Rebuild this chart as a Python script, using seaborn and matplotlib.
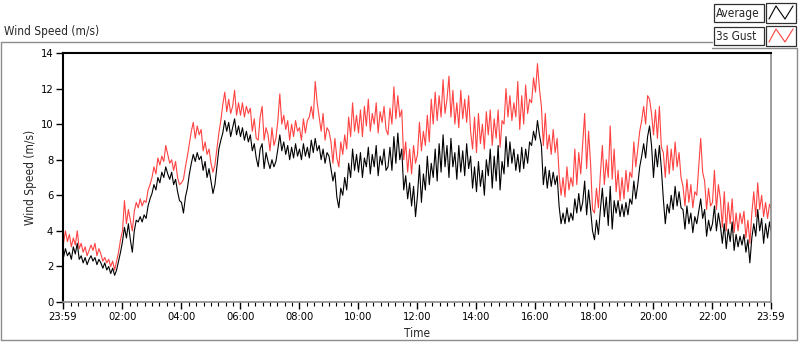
import numpy as np
import pandas as pd
import matplotlib
matplotlib.use("Agg")
import matplotlib.pyplot as plt
import seaborn as sns
from matplotlib import font_manager as fm
from matplotlib.lines import Line2D
from matplotlib.patches import Rectangle
from matplotlib.ticker import MultipleLocator

# ---------------- data (4-minute samples) ----------------
minutes = list(range(0, 1440, 4)) + [1439]

average = [
    2.5, 3.0, 2.6, 2.8, 2.4, 3.1, 2.7, 3.3, 2.4, 2.6, 2.2, 2.5, 2.1, 2.4, 2.6,   # 00h
    2.3, 2.5, 2.1, 2.4, 2.2, 1.9, 2.2, 1.8, 2.0, 1.6, 1.9, 1.5, 1.8, 2.3, 2.8,   # 01h
    3.4, 4.2, 3.6, 4.4, 3.5, 2.8, 4.0, 4.6, 4.5, 4.8, 4.5, 4.9, 4.7, 5.4, 5.8,   # 02h
    6.1, 6.6, 6.3, 7.0, 6.7, 7.3, 7.0, 7.6, 7.2, 6.9, 7.3, 6.6, 6.9, 6.2, 5.7,   # 03h
    5.6, 5.0, 5.9, 6.4, 7.2, 7.8, 8.3, 7.9, 8.4, 8.0, 8.2, 7.4, 7.9, 7.0, 7.5,   # 04h
    6.8, 6.1, 6.6, 7.6, 8.6, 9.1, 9.5, 10.2, 9.6, 10.1, 9.3, 9.8, 10.3, 9.4, 9.9,  # 05h
    9.3, 9.8, 9.1, 9.6, 9.0, 9.4, 8.5, 8.9, 8.1, 7.6, 8.6, 8.9, 7.5, 8.4, 7.9,   # 06h
    7.5, 8.0, 7.6, 7.9, 8.6, 9.4, 8.5, 9.0, 8.3, 8.8, 8.0, 8.7, 8.1, 8.9, 8.2,   # 07h
    8.6, 8.0, 8.9, 8.2, 8.7, 8.1, 9.1, 8.4, 9.2, 8.5, 8.8, 8.0, 8.6, 7.8, 8.4,   # 08h
    8.2, 7.5, 6.8, 7.3, 5.9, 5.3, 6.4, 6.0, 7.0, 6.3, 7.8, 7.0, 8.6, 7.4, 8.3,   # 09h
    7.3, 8.4, 7.0, 8.1, 7.6, 8.7, 7.2, 8.3, 7.6, 8.8, 7.1, 8.2, 7.7, 8.6, 7.4,   # 10h
    7.6, 8.7, 7.4, 9.3, 7.8, 9.5, 8.0, 8.6, 6.3, 7.1, 5.8, 6.7, 5.4, 6.5, 4.8,   # 11h
    6.0, 7.7, 5.6, 7.2, 6.3, 8.2, 6.6, 7.8, 7.0, 8.6, 6.8, 8.9, 7.3, 9.4, 7.6,   # 12h
    8.8, 7.0, 9.2, 7.6, 8.4, 6.9, 8.8, 7.3, 8.5, 7.1, 8.9, 7.5, 8.2, 6.4, 7.6,   # 13h
    6.2, 7.9, 6.5, 7.4, 6.0, 8.0, 7.1, 8.6, 6.4, 8.2, 6.8, 8.8, 6.3, 7.9, 7.2,   # 14h
    9.3, 7.6, 9.0, 7.8, 8.6, 7.4, 8.3, 7.3, 8.7, 7.5, 8.6, 7.8, 9.0, 8.8, 9.6,   # 15h
    9.1, 10.2, 9.4, 8.8, 6.6, 7.6, 6.4, 7.4, 6.5, 7.3, 6.6, 7.1, 5.4, 4.4, 5.0,  # 16h
    4.4, 5.3, 4.5, 5.0, 4.6, 5.8, 5.0, 6.1, 5.1, 5.6, 6.8, 4.9, 6.3, 5.2, 4.0,   # 17h
    3.5, 4.6, 3.8, 5.2, 6.4, 4.8, 5.9, 4.3, 6.5, 4.1, 5.7, 5.0, 5.7, 4.8, 5.5,   # 18h
    4.8, 5.6, 4.9, 5.8, 5.5, 6.8, 5.8, 6.6, 7.6, 8.2, 8.9, 8.1, 9.3, 9.9, 8.8,   # 19h
    7.0, 8.6, 7.6, 8.8, 7.5, 5.8, 4.4, 5.5, 5.0, 6.0, 5.2, 6.5, 5.4, 6.2, 5.3,   # 20h
    5.2, 4.1, 5.4, 4.4, 5.0, 3.9, 4.8, 4.4, 5.1, 5.8, 4.7, 5.2, 3.7, 4.6, 4.0,   # 21h
    4.4, 5.4, 4.0, 5.0, 4.3, 3.3, 4.4, 3.0, 4.1, 3.4, 4.5, 2.9, 3.8, 3.1, 3.7,   # 22h
    3.2, 3.8, 2.8, 3.5, 2.2, 3.6, 4.4, 3.7, 5.2, 4.0, 4.7, 3.3, 4.4, 3.6, 4.5,   # 23h
    4.0,
]

gust = [
    3.3, 4.0, 3.4, 3.8, 3.1, 3.6, 3.2, 4.0, 3.0, 3.3, 2.8, 3.1, 2.6, 2.9, 3.2,   # 00h
    2.9, 3.3, 2.6, 3.0, 2.7, 2.3, 2.5, 2.2, 2.4, 2.0, 2.3, 1.8, 2.3, 2.8, 3.5,   # 01h
    4.0, 5.7, 4.4, 5.2, 4.6, 4.0, 5.1, 5.6, 5.3, 5.8, 5.4, 5.7, 5.6, 6.3, 6.6,   # 02h
    7.0, 7.6, 7.2, 8.1, 7.7, 8.2, 7.9, 8.8, 8.3, 7.8, 8.0, 7.4, 7.9, 7.0, 6.6,   # 03h
    6.7, 6.9, 7.6, 8.2, 8.9, 9.6, 10.1, 9.2, 9.9, 9.4, 9.7, 8.5, 9.0, 8.3, 8.6,  # 04h
    7.8, 7.3, 7.7, 8.6, 9.5, 10.2, 11.1, 11.8, 10.7, 11.4, 10.6, 11.0, 11.9, 10.5, 11.2,  # 05h
    10.5, 11.2, 10.4, 11.0, 10.6, 10.9, 9.6, 10.3, 9.2, 9.1, 10.4, 11.0, 9.1, 9.8, 9.4,  # 06h
    8.5, 9.8, 8.8, 9.2, 10.2, 11.7, 10.0, 10.5, 9.7, 10.2, 9.1, 10.0, 9.3, 10.2, 9.6,    # 07h
    9.8, 9.1, 10.3, 9.5, 10.2, 10.4, 11.0, 10.3, 12.4, 11.2, 10.4, 9.6, 10.6, 9.1, 9.8,  # 08h
    9.6, 9.0, 7.8, 9.2, 8.1, 7.6, 9.0, 8.3, 9.4, 8.6, 10.4, 9.3, 11.2, 9.6, 10.5,        # 09h
    9.5, 10.8, 9.3, 11.0, 9.9, 11.4, 9.6, 10.6, 10.0, 11.2, 9.5, 10.7, 10.1, 11.0, 9.7,  # 10h
    9.4, 10.9, 10.0, 12.1, 10.3, 11.6, 10.4, 10.8, 8.0, 9.0, 7.3, 8.6, 7.2, 8.8, 7.8,    # 11h
    8.3, 10.1, 8.5, 9.6, 8.8, 10.5, 9.0, 11.4, 10.0, 11.8, 10.2, 11.6, 10.4, 12.5, 10.6, # 12h
    11.4, 12.7, 10.4, 11.9, 10.0, 11.2, 9.8, 11.9, 10.3, 11.4, 10.1, 11.6, 9.6, 8.6, 10.4,  # 13h
    8.4, 10.6, 8.9, 10.0, 8.6, 10.7, 9.4, 10.8, 8.8, 10.3, 9.2, 10.8, 8.7, 10.2, 10.0,   # 14h
    12.0, 10.4, 11.6, 10.2, 11.2, 10.4, 12.4, 9.7, 11.6, 10.0, 12.2, 10.6, 11.4, 11.2, 12.6,  # 15h
    11.8, 13.4, 12.0, 11.0, 8.8, 10.6, 8.6, 9.4, 8.3, 9.7, 8.4, 9.2, 7.2, 6.0, 7.0,      # 16h
    5.9, 7.6, 6.3, 7.0, 6.5, 8.6, 6.6, 8.4, 7.2, 8.9, 10.6, 7.5, 9.6, 7.8, 5.2,          # 17h
    5.0, 6.4, 5.3, 7.2, 8.8, 6.6, 8.0, 7.0, 9.9, 6.9, 8.6, 6.2, 7.4, 5.7, 7.0,           # 18h
    5.8, 7.4, 6.2, 7.3, 7.0, 9.0, 7.6, 8.6, 9.6, 10.2, 11.0, 10.0, 11.6, 11.4, 10.6,     # 19h
    9.4, 10.8, 9.2, 11.0, 8.7, 8.4, 7.0, 8.8, 7.2, 8.6, 7.4, 9.0, 7.6, 8.4, 7.0,         # 20h
    6.5, 5.4, 6.9, 5.6, 6.6, 5.3, 6.2, 6.0, 7.6, 9.2, 7.3, 6.8, 5.2, 6.4, 5.4,           # 21h
    5.6, 7.4, 5.2, 6.6, 5.8, 4.2, 6.2, 4.0, 5.6, 4.4, 5.8, 3.9, 5.0, 4.0, 5.0,           # 22h
    4.4, 5.1, 3.6, 4.6, 3.3, 5.0, 6.2, 4.8, 6.7, 5.2, 6.0, 4.8, 5.6, 4.7, 5.5,           # 23h
    5.3,
]

tick_positions = [-1, 120, 240, 360, 480, 600, 720, 840, 960, 1080, 1200, 1320, 1439]
tick_labels = ["23:59", "02:00", "04:00", "06:00", "08:00", "10:00", "12:00",
               "14:00", "16:00", "18:00", "20:00", "22:00", "23:59"]
y_ticks = [0, 2, 4, 6, 8, 10, 12, 14]

# ---------------- style ----------------
sns.set_style("ticks")

names = {f.name for f in fm.fontManager.ttflist}
condensed = [f for f in fm.fontManager.ttflist
             if f.name == "DejaVu Sans" and "ondensed" in f.fname and "Bold" not in f.fname
             and "Oblique" not in f.fname]
FS = 8.5
if "Liberation Sans Narrow" in names:
    plt.rcParams["font.family"] = ["Liberation Sans Narrow", "DejaVu Sans"]
elif condensed:
    fm.fontManager.addfont(condensed[0].fname)
    plt.rcParams["font.family"] = ["DejaVu Sans"]
    plt.rcParams["font.stretch"] = "condensed"
else:
    plt.rcParams["font.family"] = ["Liberation Sans", "DejaVu Sans"]
    FS = 8

RED = "#FF4242"
GREY = "#8c8c8c"

W, H = 800, 342
fig = plt.figure(figsize=(W / 100, H / 100), dpi=100)


def fx(px):
    return px / W


def fy(py):
    return 1 - py / H


ax = fig.add_axes([fx(63), fy(302), (771 - 63) / W, (302 - 53) / H])

df = pd.DataFrame({"minute": minutes, "Average": average, "3s Gust": gust})
sns.lineplot(data=df, x="minute", y="3s Gust", color=RED, lw=0.8, ax=ax, legend=False)
sns.lineplot(data=df, x="minute", y="Average", color="black", lw=0.8, ax=ax, legend=False)

ax.set_xlim(-1, 1439)
ax.set_ylim(0, 14)
ax.set_xticks(tick_positions)
ax.set_xticklabels(tick_labels)
ax.xaxis.set_minor_locator(MultipleLocator(15))
ax.set_yticks(y_ticks)
ax.tick_params(axis="both", which="major", direction="out", length=5, width=1,
               color="black", labelsize=FS - 0.5, pad=2, labelcolor="black")
ax.tick_params(axis="x", which="minor", direction="out", length=3, width=0.8, color="black")

ax.set_xlabel("Time", fontsize=FS)
ax.xaxis.set_label_coords(0.5, (302 - 327) / 249)
ax.set_ylabel("Wind Speed (m/s)", fontsize=FS)
ax.yaxis.set_label_coords((37 - 63) / 708, 0.5)

for side in ["top", "left"]:
    ax.spines[side].set_color("black")
    ax.spines[side].set_linewidth(1.5)
for side in ["bottom", "right"]:
    ax.spines[side].set_color(GREY)
    ax.spines[side].set_linewidth(1.2)

# chart title
fig.text(fx(4), fy(31), "Wind Speed (m/s)", fontsize=FS, va="center", ha="left")

# outer frame
frame_pts = [((0.5, 42), (712, 42)), ((0.5, 42), (0.5, 340)),
             ((0.5, 340), (797, 340)), ((797, 48), (797, 340)), ((712, 48), (797, 48))]
for (x0, y0), (x1, y1) in frame_pts:
    fig.add_artist(Line2D([fx(x0), fx(x1)], [fy(y0), fy(y1)], color=GREY, lw=1.0))

# legend (LabVIEW-style)
legend_rows = [("Average", "black", 4, 22), ("3s Gust", RED, 27, 45)]
for label, col, top, bot in legend_rows:
    fig.add_artist(Rectangle((fx(714), fy(bot)), (764 - 714) / W, (bot - top) / H,
                             transform=fig.transFigure, facecolor="white",
                             edgecolor="#303030", lw=0.9))
    fig.text(fx(716), fy((top + bot) / 2 + 0.5), label, fontsize=FS, va="center", ha="left")
    fig.add_artist(Rectangle((fx(766), fy(bot + 1)), (796 - 766) / W, (bot - top + 2) / H,
                             transform=fig.transFigure, facecolor="white",
                             edgecolor="#303030", lw=0.9))
    zx = [769, 776, 785, 793]
    zy = [bot - 3, top + 2, bot - 3, top + 2]
    fig.add_artist(Line2D([fx(v) for v in zx], [fy(v) for v in zy], color=col, lw=0.8))

fig.savefig("out.png", dpi=100)
